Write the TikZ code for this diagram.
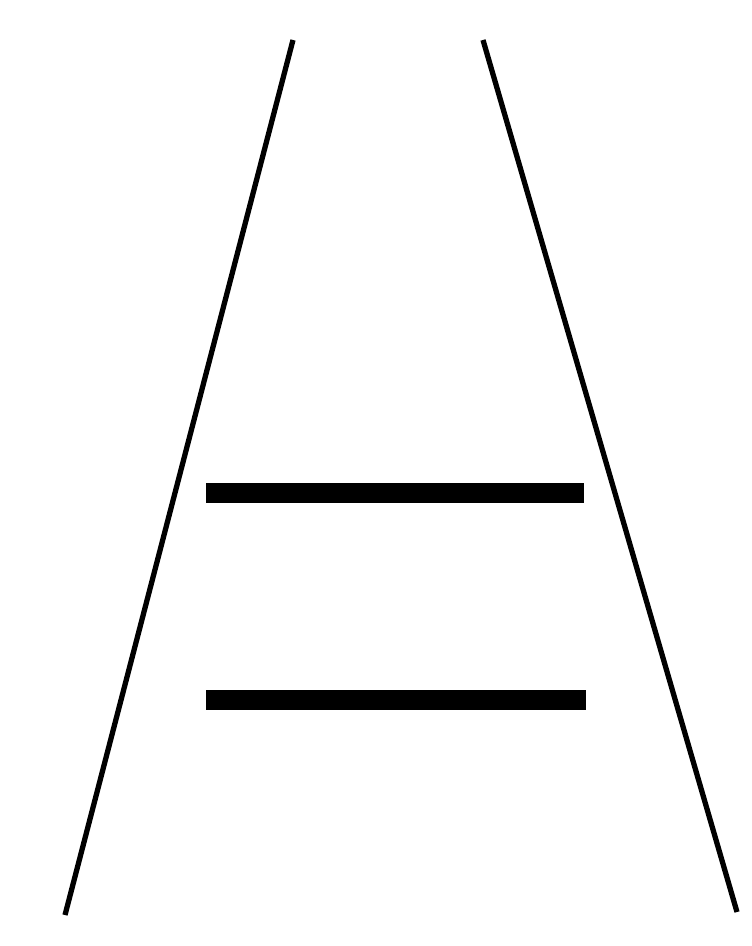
\documentclass[tikz,border=0pt]{standalone}
\usepackage{tikz}
\usetikzlibrary{calc}

\begin{document}
\begin{tikzpicture}[
    x=0.01cm, y=-0.01cm,
    rail/.style={line width=1.5pt, black},
    rung/.style={line width=5.6pt, black}
]

% Frame
\useasboundingbox (0,0) rectangle (751,946);

% Converging rails
\coordinate (left_top) at (293,40);
\coordinate (left_bottom) at (65,915);
\coordinate (right_top) at (483,40);
\coordinate (right_bottom) at (737,912);
\draw[rail] (left_top) -- (left_bottom);
\draw[rail] (right_top) -- (right_bottom);

% Equal bars
\coordinate (upper_left) at (206,493);
\coordinate (upper_right) at (584,493);
\coordinate (lower_left) at (206,700);
\coordinate (lower_right) at (586,700);
\draw[rung] (upper_left) -- (upper_right);
\draw[rung] (lower_left) -- (lower_right);

\end{tikzpicture}
\end{document}
